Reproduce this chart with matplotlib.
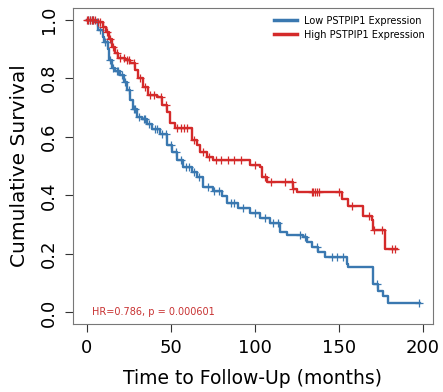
import numpy as np
import matplotlib
matplotlib.use('Agg')
import matplotlib.pyplot as plt

# Kaplan-Meier steps (months, survival after the drop)
low_t = [0, 5.3, 7.1, 9.5, 10.1, 12.5, 13.6, 15.4, 17.2, 20.2, 22.0, 24.3, 26.1, 27.9,
         30.3, 33.2, 36.2, 39.2, 43.9, 48.1, 51.0, 54.0, 57.6, 62.9, 65.9, 69.4, 75.4,
         80.7, 83.7, 90.2, 97.3, 103.3, 109.2, 115.1, 119.3, 128.8, 131.2, 134.1, 137.7,
         141.8, 154.9, 155.5, 170.3, 173.3, 176.3, 179.2, 198.2]
low_s = [1.0, 0.990, 0.966, 0.942, 0.922, 0.898, 0.863, 0.836, 0.823, 0.812, 0.788, 0.761,
         0.727, 0.693, 0.669, 0.659, 0.642, 0.625, 0.608, 0.573, 0.549, 0.522, 0.498, 0.481,
         0.461, 0.430, 0.413, 0.396, 0.375, 0.358, 0.341, 0.324, 0.307, 0.276, 0.266, 0.259,
         0.242, 0.222, 0.208, 0.191, 0.164, 0.154, 0.096, 0.072, 0.055, 0.034, 0.034]

high_t = [0, 6.5, 9.5, 11.3, 13.1, 15.4, 17.2, 19.0, 23.1, 26.1, 29.1, 30.9, 33.8, 36.8,
          42.1, 45.1, 48.1, 49.9, 52.8, 62.9, 65.9, 67.7, 71.8, 75.4, 97.3, 103.3, 104.5,
          107.4, 118.1, 122.8, 125.2, 151.9, 155.5, 164.4, 169.7, 170.3, 177.4, 184.6]
high_s = [1.0, 0.993, 0.976, 0.956, 0.932, 0.908, 0.887, 0.870, 0.863, 0.853, 0.829, 0.802,
          0.771, 0.744, 0.734, 0.710, 0.683, 0.648, 0.631, 0.590, 0.573, 0.549, 0.532, 0.522,
          0.505, 0.498, 0.461, 0.447, 0.444, 0.420, 0.410, 0.386, 0.362, 0.328, 0.317, 0.283,
          0.215, 0.215]

# censored observations (months)
low_cens = [1, 2, 3, 4, 6, 8, 11, 12, 14, 16, 18, 19, 21, 23, 25, 28, 29, 31, 34, 35, 37,
            41, 42, 45, 47, 50, 53, 56, 59, 61, 64, 67, 72, 76, 79, 86, 88, 93, 100, 106,
            111, 114, 127, 130, 137, 146, 149, 152.5, 172.7, 198]
high_cens = [0.5, 1, 2, 3, 4, 5, 7, 8, 10, 12, 14, 16, 18, 20, 22, 24, 25, 28, 32, 35, 38,
             40, 44, 47, 54, 56, 58, 60, 64, 69, 73, 77, 80, 84, 88, 92, 100, 106, 110,
             118, 122, 123, 134, 135, 136, 137, 138, 150, 158, 168, 171, 176, 181.6, 183.4]

hr_text = 'HR=0.786, p = 0.000601'
blue = '#3a78b0'
red = '#d42a2a'


def surv_at(t, s, x):
    idx = np.searchsorted(t, x, side='right') - 1
    return np.array(s)[np.clip(idx, 0, len(s) - 1)]


fig = plt.figure(figsize=(4.43, 3.92), dpi=100)
ax = fig.add_axes([0.165, 0.173, 0.812, 0.807])

ax.step(low_t, low_s, where='post', color=blue, lw=1.7, label='Low PSTPIP1 Expression')
ax.step(high_t, high_s, where='post', color=red, lw=1.7, label='High PSTPIP1 Expression')
ax.plot(low_cens, surv_at(low_t, low_s, low_cens), '+', color=blue, ms=6, mew=0.9)
ax.plot(high_cens, surv_at(high_t, high_s, high_cens), '+', color=red, ms=6, mew=0.9)

ax.set_xlim(-8, 206)
ax.set_ylim(-0.04, 1.04)
ax.set_xticks([0, 50, 100, 150, 200])
ax.set_yticks([0.0, 0.2, 0.4, 0.6, 0.8, 1.0])
ax.set_yticklabels(['0.0', '0.2', '0.4', '0.6', '0.8', '1.0'], rotation=90, va='center')
ax.tick_params(labelsize=13, length=6, color='#333333', direction='out', pad=5)
for sp in ax.spines.values():
    sp.set_color('#777777')

ax.set_xlabel('Time to Follow-Up (months)', fontsize=13.5, labelpad=8)
ax.set_ylabel('Cumulative Survival', fontsize=14.5, labelpad=8)

ax.text(3, 0.0, hr_text, color='#c83232', fontsize=7, va='center')
leg = ax.legend(loc='upper right', fontsize=7, frameon=False, handlelength=2.4,
                borderaxespad=0.4, labelspacing=0.4, handletextpad=0.7)
for h in leg.get_lines():
    h.set_linewidth(2.5)

plt.savefig('out.png', dpi=100)
